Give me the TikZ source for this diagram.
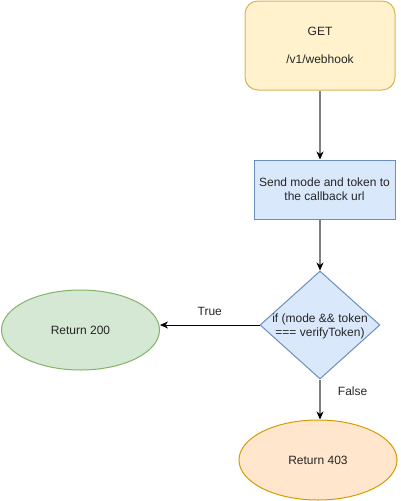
\documentclass[tikz,border=0pt]{standalone}
\usepackage{fontspec}
\setmainfont{Liberation Sans}
\usepackage{xcolor}
\usepackage{tikz}
\usetikzlibrary{arrows.meta,shapes.geometric}
\definecolor{GetFill}{HTML}{FFF2CC}
\definecolor{GetLine}{HTML}{D6B656}
\definecolor{StepFill}{HTML}{DAE8FC}
\definecolor{StepLine}{HTML}{6C8EBF}
\definecolor{OkFill}{HTML}{D5E8D4}
\definecolor{OkLine}{HTML}{82B366}
\definecolor{DenyFill}{HTML}{FFE6CC}
\definecolor{DenyLine}{HTML}{D79B00}
\definecolor{EdgeGray}{HTML}{808080}

\begin{document}
\begin{tikzpicture}[
    x=1pt, y=-1pt,
    every node/.style={font=\fontsize{12}{14}\selectfont, text=black!85},
    route/.style={draw=GetLine, fill=GetFill, line width=1pt, rounded corners=13pt,
      align=center, minimum width=150pt, minimum height=89pt, inner sep=0pt},
    stepbox/.style={draw=StepLine, fill=StepFill, line width=1pt,
      align=center, minimum width=141pt, minimum height=59pt, inner sep=0pt},
    decision/.style={diamond, draw=StepLine, fill=StepFill, line width=1pt,
      minimum width=120pt, minimum height=108pt, inner sep=0pt},
    result/.style={ellipse, line width=1pt, minimum width=158pt, minimum height=80pt, inner sep=0pt},
    arrow/.style={-{Stealth[length=8pt,width=7pt,inset=2.5pt,color=black]}, line width=1.3pt, color=EdgeGray},
    blackarrow/.style={-{Stealth[length=8pt,width=7pt,inset=2.5pt]}, line width=1pt, color=black}
  ]
    \useasboundingbox (0,0) rectangle (401,501);
    \node[route] (get) at (320,45.5) {GET\\[14pt]/v1/webhook};
    \node[stepbox] (send) at (324.5,189.5) {Send mode and token to\\the callback url};
    \node[decision, label={[align=center, yshift=-1pt]center:if (mode \&\& token\\=== verifyToken)}] (check) at (320,325) {};
    \node[result, draw=OkLine, fill=OkFill] (ok200) at (80.5,330) {Return 200};
    \node[result, draw=DenyLine, fill=DenyFill] (no403) at (318,460) {Return 403};
    \draw[arrow] (get.south) -- (get.south |- send.north);
    \draw[arrow] (check.north |- send.south) -- (check.north);
    \draw[blackarrow] (check.west) -- node[above=6pt]{True} (check.west -| ok200.east);
    \draw[arrow] (check.south) -- node[right=14pt, pos=0.3]{False} (check.south |- no403.north);
  \end{tikzpicture}
\end{document}
